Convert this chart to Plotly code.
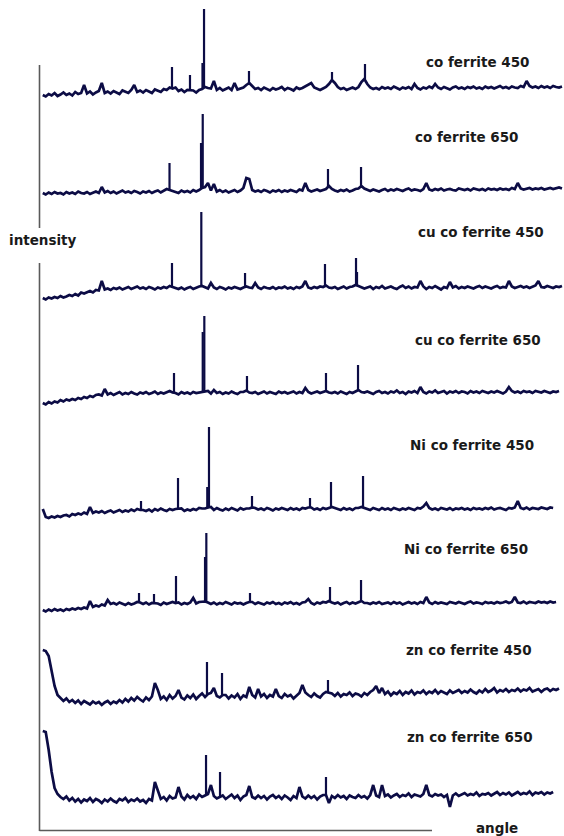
import plotly.graph_objects as go

# 2-theta sampling grid (degrees), 0.5 degree step
angle = [round(8 + 0.5 * i, 1) for i in range(177)]

labels = ["co ferrite 450", "co ferrite 650", "cu co ferrite 450", "cu co ferrite 650",
          "Ni co ferrite 450", "Ni co ferrite 650", "zn co ferrite 450", "zn co ferrite 650"]

# ---- background / noise profiles (intensity, a.u.) on the angle grid ----
co_450 = [100,85,110,95,120,90,105,125,100,115,95,130,110,120,200,115,135,105,125,140,
          220,120,135,115,140,125,110,145,130,120,150,200,130,145,125,150,135,120,155,140,
          130,160,150,175,165,175,140,155,130,150,150,145,125,150,160,180,170,165,240,150,
          170,145,160,175,150,220,155,165,175,200,220,190,160,170,150,175,160,145,170,155,
          165,180,150,170,160,145,175,160,170,185,200,220,175,160,150,165,180,210,250,220,
          180,160,170,150,165,175,160,180,230,260,210,175,160,170,155,180,165,175,160,185,
          170,155,175,165,180,160,210,170,155,175,165,185,170,210,175,160,180,170,155,175,
          185,165,175,160,180,170,185,165,175,160,185,170,180,165,175,190,170,180,165,185,
          175,170,190,180,240,190,175,185,170,190,175,185,170,190,180,175,185]

co_650 = [70,55,75,60,80,65,70,55,80,65,75,60,85,70,65,80,60,75,85,70,
          130,75,90,70,85,65,80,95,75,85,70,90,80,65,85,75,90,70,85,95,
          75,90,110,100,90,85,70,95,80,90,75,100,85,100,120,130,170,95,160,85,
          100,80,95,75,90,100,80,95,120,220,210,100,85,95,80,100,90,75,95,85,
          100,80,95,85,100,90,80,105,95,170,100,85,95,105,90,100,110,140,110,95,
          85,100,90,105,85,95,110,115,140,115,100,90,105,95,85,100,110,90,105,95,
          110,100,90,105,115,95,105,100,90,110,170,105,95,110,100,115,95,105,110,100,
          95,115,105,100,110,95,115,105,100,110,95,115,105,110,100,115,105,110,100,120,
          110,170,115,105,110,120,105,115,110,120,105,115,120,110,115,125,115]

cu_co_450 = [70,55,75,65,80,70,90,75,85,100,90,110,95,125,115,130,140,125,150,145,
             240,155,165,150,170,160,175,155,170,180,160,170,185,165,175,160,180,170,155,175,
             165,180,170,190,180,170,160,175,155,170,180,160,175,185,190,175,165,220,175,160,
             180,170,155,175,165,180,170,160,175,185,175,170,220,175,160,180,170,165,180,160,
             175,170,185,165,175,160,180,170,185,240,175,165,180,170,185,180,195,175,170,180,
             160,175,185,165,180,185,200,190,180,165,175,185,160,180,170,190,165,175,185,170,
             160,180,195,170,185,165,180,175,240,185,160,180,170,190,175,155,180,170,230,175,
             190,165,180,170,185,175,165,180,190,170,185,175,165,180,190,170,180,175,240,185,
             170,180,190,175,185,170,180,195,240,180,175,190,180,170,185,180,190]

cu_co_650 = [100,85,110,95,115,105,130,115,135,125,140,130,150,140,160,150,170,160,180,185,
             175,240,185,200,180,195,210,185,200,190,210,195,185,205,195,210,190,200,215,190,
             205,195,210,220,205,200,185,210,195,205,190,210,200,205,215,220,220,195,230,200,
             210,190,205,195,215,200,190,210,210,225,205,200,210,190,205,215,195,210,200,190,
             215,200,210,195,205,215,195,210,200,250,210,195,205,215,200,210,220,205,200,210,
             195,215,205,190,210,200,215,230,210,205,215,200,190,210,220,200,210,195,215,205,
             225,200,210,190,215,205,220,200,260,210,195,215,205,225,200,210,220,195,215,205,
             220,200,215,210,195,220,205,215,200,220,210,200,215,205,220,210,195,215,260,220,
             205,215,200,220,210,215,200,220,210,205,220,210,200,215,210,220]

ni_co_450 = [160,80,70,85,75,90,80,95,100,85,110,100,115,105,125,110,180,120,135,125,
             140,120,135,145,125,140,150,130,145,135,155,140,160,150,150,140,155,135,160,145,
             165,150,140,160,150,160,160,165,140,155,145,160,150,170,165,165,175,180,150,170,
             155,145,165,150,170,160,145,170,155,165,165,175,170,155,165,150,170,160,145,165,
             155,170,160,150,170,155,165,150,170,165,175,175,155,165,150,170,160,170,180,170,
             160,150,170,155,165,150,170,170,180,170,165,150,170,160,150,170,155,165,150,170,
             160,150,165,155,170,160,150,170,165,185,220,170,155,165,150,170,160,155,170,150,
             165,160,170,155,165,150,170,160,165,155,170,160,175,155,165,170,160,150,170,165,
             175,240,170,160,175,155,170,165,160,175,165,160,175,170]

ni_co_650 = [50,35,55,40,60,45,55,40,60,50,65,55,70,60,75,65,140,80,95,85,
             105,95,150,110,120,105,125,110,100,120,105,115,130,125,110,125,105,120,115,115,
             100,125,110,120,130,120,125,105,120,110,125,170,115,130,130,135,125,110,125,105,
             120,110,130,115,105,125,115,120,105,120,130,130,110,125,115,105,125,115,130,110,
             120,105,125,115,130,110,120,105,125,130,160,120,105,125,115,130,125,140,125,115,
             125,105,120,130,110,125,115,125,140,120,120,110,125,115,130,110,120,125,110,130,
             115,125,105,120,130,115,125,110,130,120,180,125,110,130,115,125,120,110,130,120,
             115,130,120,110,125,135,115,125,120,110,130,120,125,115,130,120,125,135,120,130,
             180,125,120,135,115,130,125,120,135,125,130,120,135,125,130]

zn_co_450 = [600,590,540,400,240,150,120,90,115,80,100,70,95,60,90,75,55,85,65,80,
             50,75,90,60,85,70,100,75,110,85,120,95,130,105,85,125,100,135,270,200,
             110,135,100,150,115,140,200,125,105,145,120,155,110,140,165,130,160,170,220,140,
             125,150,150,115,145,125,160,110,145,130,230,150,125,210,135,160,120,150,135,210,
             140,120,160,135,150,115,145,170,250,175,150,130,165,140,125,160,180,175,165,140,
             170,135,160,150,175,140,165,155,135,170,150,180,200,240,170,220,160,185,145,175,
             160,190,150,180,165,195,155,180,170,195,160,185,170,200,165,190,175,160,195,170,
             185,200,170,190,175,205,180,165,195,175,210,180,195,220,175,200,185,210,180,200,
             190,215,185,205,195,220,185,200,210,180,205,215,190,210,200,215]

zn_co_650 = [790,780,600,380,220,160,130,110,135,95,120,85,110,75,105,90,120,80,110,95,
             70,105,85,115,90,75,110,95,120,80,105,90,115,85,100,70,110,95,280,200,
             110,130,95,140,115,125,230,135,105,150,120,140,110,155,130,145,160,250,140,115,
             130,145,110,135,155,120,145,100,135,150,240,130,115,145,120,140,105,135,150,120,
             140,110,145,125,100,140,120,230,135,115,145,120,140,105,135,150,150,70,140,120,
             150,125,140,110,145,130,120,150,125,140,115,150,250,145,130,250,140,155,125,145,
             160,130,150,140,165,130,155,145,135,160,250,150,135,160,145,155,130,150,30,145,
             165,140,155,170,145,160,150,175,140,160,155,170,145,165,180,150,170,155,175,145,
             165,180,155,170,160,185,150,175,165,180,155,175,165,180]

# ---- sharp reflections: 2-theta position, peak top, local background ----
co_450_peak_angle = [29.90, 32.95, 35.07, 35.33, 42.95, 57.02, 62.61]
co_450_peak_top   = [380, 300, 420, 960, 340, 330, 410]
co_450_peak_base  = [165, 150, 160, 180, 220, 250, 260]

co_650_peak_angle = [29.48, 34.82, 35.11, 56.34, 61.94]
co_650_peak_top   = [370, 570, 860, 310, 330]
co_650_peak_base  = [100, 110, 130, 140, 140]

cu_co_450_peak_angle = [29.90, 34.87, 42.28, 55.83, 61.09, 61.26]
cu_co_450_peak_top   = [420, 930, 320, 410, 470, 330]
cu_co_450_peak_base  = [180, 185, 180, 190, 195, 190]

cu_co_650_peak_angle = [30.24, 35.11, 35.38, 42.61, 56.00, 61.43]
cu_co_650_peak_top   = [400, 810, 970, 370, 400, 480]
cu_co_650_peak_base  = [205, 215, 220, 215, 215, 225]

ni_co_450_peak_angle = [24.65, 30.92, 35.88, 36.17, 43.46, 53.29, 56.85, 62.28]
ni_co_450_peak_top   = [240, 470, 380, 980, 290, 270, 430, 490]
ni_co_450_peak_base  = [150, 160, 165, 170, 170, 170, 180, 180]

ni_co_650_peak_angle = [24.31, 26.85, 30.58, 35.50, 35.72, 43.12, 56.68, 61.94]
ni_co_650_peak_top   = [220, 210, 390, 580, 820, 220, 280, 350]
ni_co_650_peak_base  = [120, 115, 125, 130, 135, 125, 140, 140]

zn_co_450_peak_angle = [35.83, 38.38, 56.34]
zn_co_450_peak_top   = [480, 370, 300]
zn_co_450_peak_base  = [160, 145, 175]

zn_co_650_peak_angle = [35.67, 38.04, 56.00]
zn_co_650_peak_top   = [550, 380, 330]
zn_co_650_peak_base  = [145, 130, 150]

series = [co_450, co_650, cu_co_450, cu_co_650, ni_co_450, ni_co_650, zn_co_450, zn_co_650]
peaks = [
    (co_450_peak_angle, co_450_peak_top, co_450_peak_base),
    (co_650_peak_angle, co_650_peak_top, co_650_peak_base),
    (cu_co_450_peak_angle, cu_co_450_peak_top, cu_co_450_peak_base),
    (cu_co_650_peak_angle, cu_co_650_peak_top, cu_co_650_peak_base),
    (ni_co_450_peak_angle, ni_co_450_peak_top, ni_co_450_peak_base),
    (ni_co_650_peak_angle, ni_co_650_peak_top, ni_co_650_peak_base),
    (zn_co_450_peak_angle, zn_co_450_peak_top, zn_co_450_peak_base),
    (zn_co_650_peak_angle, zn_co_650_peak_top, zn_co_650_peak_base),
]

# ---- layout / styling ----
W, H = 564, 836
panel_bottom_px = [105, 200, 305, 413, 525, 615, 710, 810]
panel_height_px = 100
label_pos_px = [(477, 62), (466, 137), (481, 232), (478, 340),
                (472, 445), (466, 549), (469, 650), (470, 737)]
line_color = "#0c0c45"
text_color = "#1a1a1a"
font_family = "DejaVu Sans, Arial, sans-serif"

fig = go.Figure()
layout = dict(
    width=W, height=H,
    margin=dict(l=0, r=0, t=0, b=0),
    paper_bgcolor="white", plot_bgcolor="rgba(0,0,0,0)",
    showlegend=False,
    xaxis=dict(domain=[0, 1], range=[0.75, 96.34], visible=False),
)

for k, vals in enumerate(series):
    yname = "y" if k == 0 else f"y{k+1}"
    fig.add_trace(go.Scatter(
        x=angle[:len(vals)], y=vals, mode="lines",
        line=dict(color=line_color, width=2.7),
        xaxis="x", yaxis=yname, name=labels[k], hoverinfo="skip",
    ))
    pa, pt, pb = peaks[k]
    sx, sy = [], []
    for a, t, b0 in zip(pa, pt, pb):
        sx += [a, a, None]
        sy += [b0, t, None]
    fig.add_trace(go.Scatter(
        x=sx, y=sy, mode="lines",
        line=dict(color=line_color, width=2.2),
        xaxis="x", yaxis=yname, name=labels[k] + " peaks", hoverinfo="skip",
    ))
    b = panel_bottom_px[k]
    dom = [(H - b) / H, (H - b + panel_height_px) / H]
    key = "yaxis" if k == 0 else f"yaxis{k+1}"
    layout[key] = dict(domain=dom, range=[0, 1000], visible=False, anchor="x")

fig.update_layout(**layout)

annotations = []
for k, (px, py) in enumerate(label_pos_px):
    annotations.append(dict(
        x=px / W, y=(H - py) / H, xref="paper", yref="paper",
        text=labels[k], showarrow=False, xanchor="center", yanchor="middle",
        font=dict(family=font_family, size=13.5, color=text_color, weight="bold"),
    ))
annotations.append(dict(x=43 / W, y=(H - 240.5) / H, xref="paper", yref="paper",
                        text="intensity", showarrow=False, xanchor="center", yanchor="middle",
                        font=dict(family=font_family, size=13.5, color=text_color, weight="bold")))
annotations.append(dict(x=496.5 / W, y=(H - 828) / H, xref="paper", yref="paper",
                        text="angle", showarrow=False, xanchor="center", yanchor="middle",
                        font=dict(family=font_family, size=13.5, color=text_color, weight="bold")))
fig.update_layout(annotations=annotations)

axis_col = "#5a5a5a"
ax_x = 39.5 / W
shapes = [
    dict(type="line", xref="paper", yref="paper", x0=ax_x, x1=ax_x,
         y0=(H - 65) / H, y1=(H - 228) / H, line=dict(color=axis_col, width=1.6)),
    dict(type="line", xref="paper", yref="paper", x0=ax_x, x1=ax_x,
         y0=(H - 263) / H, y1=(H - 831) / H, line=dict(color=axis_col, width=1.6)),
    dict(type="line", xref="paper", yref="paper", x0=ax_x, x1=432 / W,
         y0=(H - 830.5) / H, y1=(H - 830.5) / H, line=dict(color=axis_col, width=1.6)),
]
fig.update_layout(shapes=shapes)

fig.write_html("out.html",
               config={"displayModeBar": False},
               post_script="document.body.style.margin='0';document.body.style.overflow='hidden';")
